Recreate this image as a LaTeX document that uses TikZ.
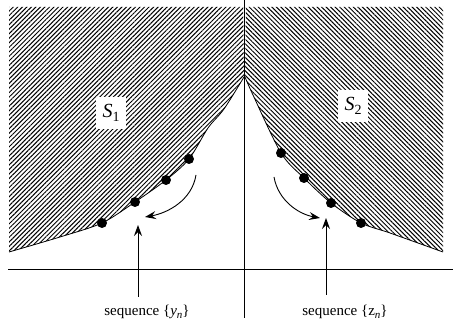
\documentclass[tikz,border=0pt]{standalone}
\usepackage{fontspec}
\setmainfont{Liberation Serif}
\usetikzlibrary{patterns.meta,arrows.meta}
\begin{document}
\begin{tikzpicture}[x=1pt,y=-1pt,
  axisline/.style={line width=1pt},
  curveline/.style={line width=0.8pt},
  dot/.style={circle,fill=black,inner sep=0pt,minimum size=10pt},
  arr/.style={line width=0.9pt,-{Stealth[length=11pt,width=8pt,inset=4pt]}},
  lab/.style={font=\fontsize{15}{18}\selectfont,inner sep=0pt},
  slab/.style={fill=white,inner sep=0pt,minimum width=30pt,minimum height=32pt,font=\fontsize{20}{24}\selectfont},
  hatchL/.style={pattern={Lines[angle=45,distance=3.2pt,line width=1pt]}},
  hatchR/.style={pattern={Lines[angle=-45,distance=3.2pt,line width=1pt]}}]
\useasboundingbox (0,0) rectangle (453,328);
% curve points
\coordinate (L0) at (9,252);
\coordinate (L1) at (60,237);
\coordinate (p1) at (102,223);
\coordinate (p2) at (135,202);
\coordinate (p3) at (166,180);
\coordinate (p4) at (189,159);
\coordinate (L3) at (208,128);
\coordinate (L2) at (224,109);
\coordinate (T1) at (244,77);
\coordinate (T2) at (245,77);
\coordinate (R1) at (253,95);
\coordinate (q1) at (281,153);
\coordinate (q2) at (304,178);
\coordinate (q3) at (331,203);
\coordinate (q4) at (361,223);
\coordinate (R2) at (390,233);
\coordinate (R3) at (443,252);
% hatched regions
\fill[hatchL] (9,7) -- (243,7) -- plot[smooth] coordinates {(T1) (L2) (L3) (p4) (p3) (p2) (p1) (L1) (L0)} -- cycle;
\fill[hatchR] (443,7) -- (246,7) -- plot[smooth] coordinates {(T2) (R1) (q1) (q2) (q3) (q4) (R2) (R3)} -- cycle;
% curves
\draw[curveline] plot[smooth] coordinates {(T1) (L2) (L3) (p4) (p3) (p2) (p1) (L1) (L0)};
\draw[curveline] plot[smooth] coordinates {(T2) (R1) (q1) (q2) (q3) (q4) (R2) (R3)};
% axes
\coordinate (vt) at (244,0);
\coordinate (vb) at (244,318);
\coordinate (hl) at (8,270);
\coordinate (hr) at (453,270);
\draw[axisline] (vt) -- (vb);
\draw[axisline] (hl) -- (hr);
% dots
\node[dot] (y1) at (p1) {};
\node[dot] (y2) at (p2) {};
\node[dot] (y3) at (p3) {};
\node[dot] (y4) at (p4) {};
\node[dot] (z1) at (q1) {};
\node[dot] (z2) at (q2) {};
\node[dot] (z3) at (q3) {};
\node[dot] (z4) at (q4) {};
% set labels
\node[slab] (s1) at (111,113) {\textit{S}\raisebox{-0.45ex}{\fontsize{14}{16}\selectfont 1}};
\node[slab] (s2) at (353,106) {\textit{S}\raisebox{-0.45ex}{\fontsize{14}{16}\selectfont 2}};
% curved arrows
\coordinate (ca1) at (196,175);
\coordinate (cb1) at (145,217);
\draw[arr] (ca1) .. controls (192,200) and (168,213) .. (cb1);
\coordinate (ca2) at (274,177);
\coordinate (cb2) at (320,218);
\draw[arr] (ca2) .. controls (278,200) and (298,214) .. (cb2);
% sequence labels
\node[lab] (ylab) at (147,312) {sequence \{\textit{y}\raisebox{-0.5ex}{\fontsize{11}{12}\selectfont\textit{n}}\}};
\node[lab] (zlab) at (345,312) {sequence \{z\raisebox{-0.5ex}{\fontsize{11}{12}\selectfont\textit{n}}\}};
\coordinate (ya) at (138,297);
\coordinate (yb) at (138,225);
\draw[arr] (ya) -- (yb);
\coordinate (za) at (326,295);
\coordinate (zb) at (326,218);
\draw[arr] (za) -- (zb);
\end{tikzpicture}
\end{document}
